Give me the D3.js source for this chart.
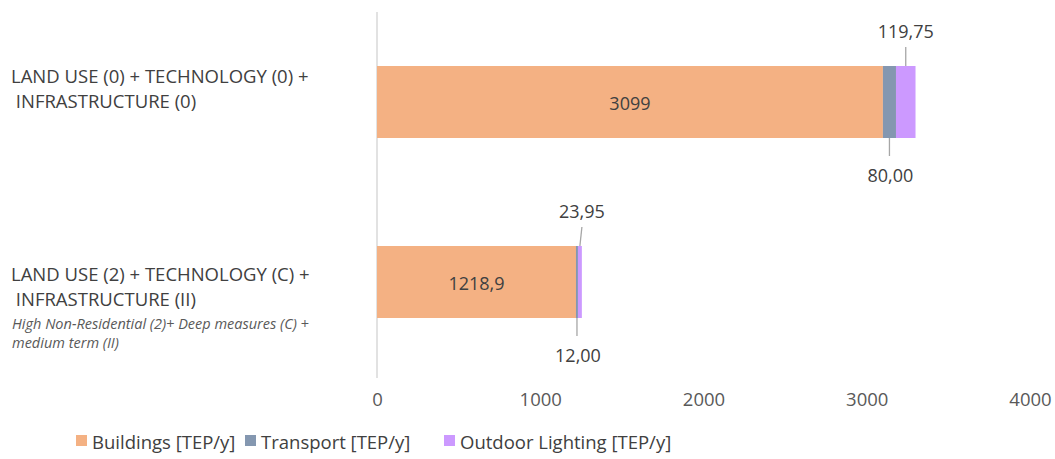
<!DOCTYPE html>
<html>
<head>
<meta charset="utf-8">
<script src="https://cdn.jsdelivr.net/npm/d3@7/dist/d3.min.js"></script>
<style>
  html, body { margin: 0; padding: 0; background: #ffffff; }
  svg { display: block; font-family: "Open Sans", "DejaVu Sans", sans-serif; }
</style>
</head>
<body>
<svg id="chart" width="1055" height="459"></svg>
<script>
// Scenario rows (top to bottom)
const categories = ["base", "scenario"];
const categoryLines = [
  ["LAND USE (0) + TECHNOLOGY (0) +", " INFRASTRUCTURE (0)"],
  ["LAND USE (2) + TECHNOLOGY (C) +", " INFRASTRUCTURE (II)"]
];
const categoryNotes = [
  [],
  ["High Non-Residential (2)+ Deep measures (C) +", "medium term (II)"]
];

// Energy demand per sector [TEP/y]
const buildings = [3099, 1218.9];
const transport = [80.00, 12.00];
const lighting = [119.75, 23.95];

const seriesNames = ["Buildings [TEP/y]", "Transport [TEP/y]", "Outdoor Lighting [TEP/y]"];
const seriesColors = ["#F4B183", "#8497B0", "#CC99FF"];
const tickValues = [0, 1000, 2000, 3000, 4000];

const svg = d3.select("#chart");
const textColor = "#404040";

const x = d3.scaleLinear().domain([0, 4000]).range([377, 1030]);
const y = d3.scaleBand().domain(categories).range([12, 372])
  .paddingInner(0.6).paddingOuter(0.3);

// Stack the three sectors
const rows = categories.map((c, i) => ({
  cat: c, Buildings: buildings[i], Transport: transport[i], Lighting: lighting[i]
}));
const keys = ["Buildings", "Transport", "Lighting"];
const stacked = d3.stack().keys(keys)(rows);

// Vertical value axis baseline
svg.append("line")
  .attr("x1", x(0)).attr("x2", x(0))
  .attr("y1", 12).attr("y2", 378)
  .attr("stroke", "#d9d9d9").attr("stroke-width", 1.5);

// Bars
stacked.forEach((layer, li) => {
  svg.append("g").selectAll("rect")
    .data(layer)
    .join("rect")
    .attr("x", d => x(d[0]))
    .attr("width", d => x(d[1]) - x(d[0]))
    .attr("y", d => y(d.data.cat))
    .attr("height", y.bandwidth())
    .attr("fill", seriesColors[li]);
});

// Buildings value inside the bar
svg.append("g").selectAll("text")
  .data(stacked[0])
  .join("text")
  .attr("x", d => (x(d[0]) + x(d[1])) / 2)
  .attr("y", d => y(d.data.cat) + y.bandwidth() / 2 + 1)
  .attr("text-anchor", "middle")
  .attr("dominant-baseline", "central")
  .attr("font-size", 18)
  .attr("fill", textColor)
  .text(d => String(d.data.Buildings).replace(".", ","));

const fmt2 = v => v.toFixed(2).replace(".", ",");

// Callouts: lighting above the bar, transport below
const calloutColor = "#a6a6a6";
stacked[2].forEach((d, i) => {
  const cx = (x(d[0]) + x(d[1])) / 2;
  const top = y(d.data.cat);
  const lx = i === 0 ? cx : cx + 2;
  svg.append("line")
    .attr("x1", cx).attr("y1", top)
    .attr("x2", lx).attr("y2", top - 19)
    .attr("stroke", calloutColor).attr("stroke-width", 1.3);
  svg.append("text")
    .attr("x", lx).attr("y", top - 35)
    .attr("text-anchor", "middle").attr("dominant-baseline", "central")
    .attr("font-size", 18).attr("fill", textColor)
    .text(fmt2(d.data.Lighting));
});
stacked[1].forEach((d, i) => {
  const cx = (x(d[0]) + x(d[1])) / 2;
  const bottom = y(d.data.cat) + y.bandwidth();
  svg.append("line")
    .attr("x1", cx).attr("y1", bottom)
    .attr("x2", cx).attr("y2", bottom + 18)
    .attr("stroke", calloutColor).attr("stroke-width", 1.3);
  svg.append("text")
    .attr("x", cx + 1).attr("y", bottom + 37)
    .attr("text-anchor", "middle").attr("dominant-baseline", "central")
    .attr("font-size", 18).attr("fill", textColor)
    .text(fmt2(d.data.Transport));
});

// Category labels
categories.forEach((c, i) => {
  const yc = y(c) + y.bandwidth() / 2;
  const lines = categoryLines[i];
  const notes = categoryNotes[i];
  const y0 = i === 0 ? yc - 27 : yc - 9;
  lines.forEach((t, k) => {
    svg.append("text")
      .attr("x", 11).attr("y", y0 + k * 25)
      .attr("dominant-baseline", "central")
      .attr("font-size", 18.5).attr("fill", textColor)
      .attr("xml:space", "preserve")
      .style("white-space", "pre")
      .text(t);
  });
  notes.forEach((t, k) => {
    svg.append("text")
      .attr("x", 12).attr("y", y0 + 50 + k * 19)
      .attr("dominant-baseline", "central")
      .attr("font-size", 14.5).attr("font-style", "italic")
      .attr("fill", "#595959")
      .text(t);
  });
});

// Horizontal axis tick labels
const xAxis = d3.axisBottom(x).tickValues(tickValues).tickSize(0).tickPadding(0)
  .tickFormat(d3.format("d"));
const gx = svg.append("g").attr("transform", "translate(0,393)").call(xAxis);
gx.select(".domain").remove();
gx.selectAll("text").attr("font-size", 18.5).attr("fill", "#595959")
  .attr("font-family", "\"Open Sans\", sans-serif");

// Legend
const legendX = [76, 245, 444];
const legend = svg.append("g");
seriesNames.forEach((n, i) => {
  legend.append("rect")
    .attr("x", legendX[i]).attr("y", 435)
    .attr("width", 11).attr("height", 11)
    .attr("fill", seriesColors[i]);
  legend.append("text")
    .attr("x", legendX[i] + 16).attr("y", 441)
    .attr("dominant-baseline", "central")
    .attr("font-size", 18.5).attr("fill", textColor)
    .text(n);
});
</script>
</body>
</html>
